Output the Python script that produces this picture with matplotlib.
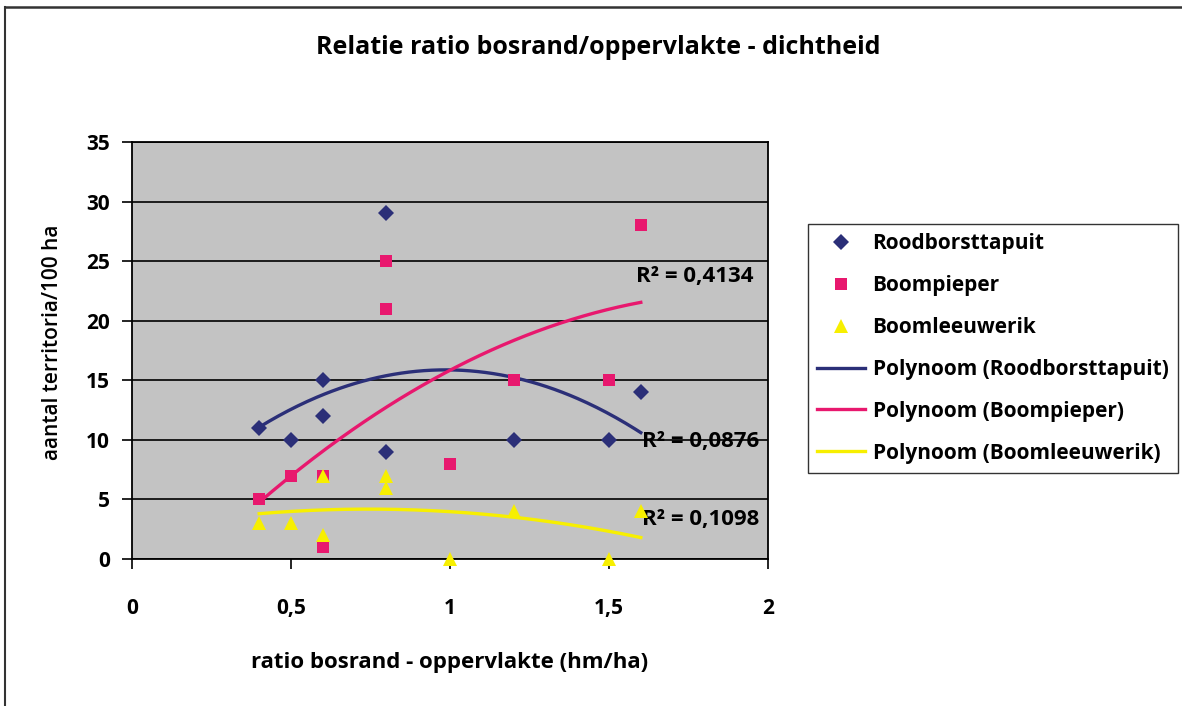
import numpy as np
import matplotlib
matplotlib.use("Agg")
import matplotlib.pyplot as plt
from matplotlib.lines import Line2D

plt.rcParams['font.family'] = ['Open Sans', 'DejaVu Sans']

# ---- data ----
x_rood = [0.4, 0.5, 0.6, 0.6, 0.8, 0.8, 1.2, 1.5, 1.6]
y_rood = [11, 10, 15, 12, 29, 9, 10, 10, 14]

x_pieper = [0.4, 0.5, 0.6, 0.6, 0.8, 0.8, 1.0, 1.2, 1.5, 1.6]
y_pieper = [5, 7, 7, 1, 25, 21, 8, 15, 15, 28]

x_leeuw = [0.4, 0.5, 0.6, 0.6, 0.8, 0.8, 1.0, 1.2, 1.5, 1.6]
y_leeuw = [3, 3, 7, 2, 7, 6, 0, 4, 0, 4]

series_names = ["Roodborsttapuit", "Boompieper", "Boomleeuwerik"]
r2_labels = ["R² = 0,0876", "R² = 0,4134", "R² = 0,1098"]

x_ticks = [0, 0.5, 1, 1.5, 2]
x_tick_labels = ["0", "0,5", "1", "1,5", "2"]
y_ticks = [0, 5, 10, 15, 20, 25, 30, 35]

title = "Relatie ratio bosrand/oppervlakte - dichtheid"
xlabel = "ratio bosrand - oppervlakte (hm/ha)"
ylabel = "aantal territoria/100 ha"

# ---- styling ----
c_blue = "#2b2f78"
c_pink = "#e8186e"
c_yellow = "#f7ef00"

fig = plt.figure(figsize=(11.82, 7.06), dpi=100)
ax = fig.add_axes([132/1182, 1-559/706, (768-132)/1182, (559-142)/706])
ax.set_facecolor("#c3c3c3")

datasets = [
    (x_rood, y_rood, c_blue, "D", 8),
    (x_pieper, y_pieper, c_pink, "s", 8.5),
    (x_leeuw, y_leeuw, c_yellow, "^", 10),
]

handles_m = []
handles_l = []
for (xs, ys, col, mk, ms), name in zip(datasets, series_names):
    h, = ax.plot(xs, ys, linestyle="none", marker=mk, color=col, markersize=ms,
                 markeredgewidth=0, zorder=4, label=name, clip_on=False)
    handles_m.append(h)

for (xs, ys, col, mk, ms), name in zip(datasets, series_names):
    coef = np.polyfit(xs, ys, 2)
    xx = np.linspace(min(xs), max(xs), 200)
    h, = ax.plot(xx, np.polyval(coef, xx), color=col, linewidth=2.4, zorder=3,
                 label="Polynoom (%s)" % name)
    handles_l.append(h)

ax.set_xlim(0, 2)
ax.set_ylim(0, 35)
ax.set_xticks(x_ticks)
ax.set_xticklabels(x_tick_labels)
ax.set_yticks(y_ticks)
ax.yaxis.grid(True, color="black", linewidth=1.2)
ax.set_axisbelow(True)
for s in ax.spines.values():
    s.set_color("black")
    s.set_linewidth(1.3)
ax.tick_params(axis="both", direction="out", length=7, width=1.2, labelsize=15)
ax.tick_params(axis="x", pad=21)
ax.tick_params(axis="y", pad=9)
for lab in ax.get_xticklabels() + ax.get_yticklabels():
    lab.set_fontweight("bold")

ax.set_xlabel(xlabel, fontsize=16, fontweight="bold", labelpad=24)
ax.set_ylabel(ylabel, fontsize=15, fontweight="semibold")
ax.yaxis.set_label_coords(-0.109, 0.52)
fig.text(598/1182, 1-48/706, title, ha="center", va="center", fontsize=18, fontweight="bold")

# R² labels
r2_font = dict(fontsize=16, fontweight="bold", va="center", ha="left")
ax.text(1.585, 23.7, r2_labels[1], **r2_font)
ax.text(1.605, 9.9, r2_labels[0], **r2_font)
ax.text(1.605, 3.3, r2_labels[2], **r2_font)

leg = fig.legend(handles_m + handles_l,
                 [h.get_label() for h in handles_m + handles_l],
                 loc="upper left", bbox_to_anchor=(808/1182, 1-224/706),
                 frameon=True, fancybox=False, edgecolor="black",
                 prop={"size": 15, "weight": "bold"},
                 labelspacing=1.0, handlelength=2.3, handletextpad=0.35,
                 borderpad=0.45, borderaxespad=0)
leg.get_frame().set_linewidth(1.0)

# page frame (scanned border)
fig.add_artist(Line2D([5/1182, 5/1182], [0, 1-7/706], transform=fig.transFigure,
                      color="#333333", linewidth=1.5))
fig.add_artist(Line2D([5/1182, 1], [1-7/706, 1-7/706], transform=fig.transFigure,
                      color="#333333", linewidth=1.8))

fig.savefig("out.png", dpi=100)
